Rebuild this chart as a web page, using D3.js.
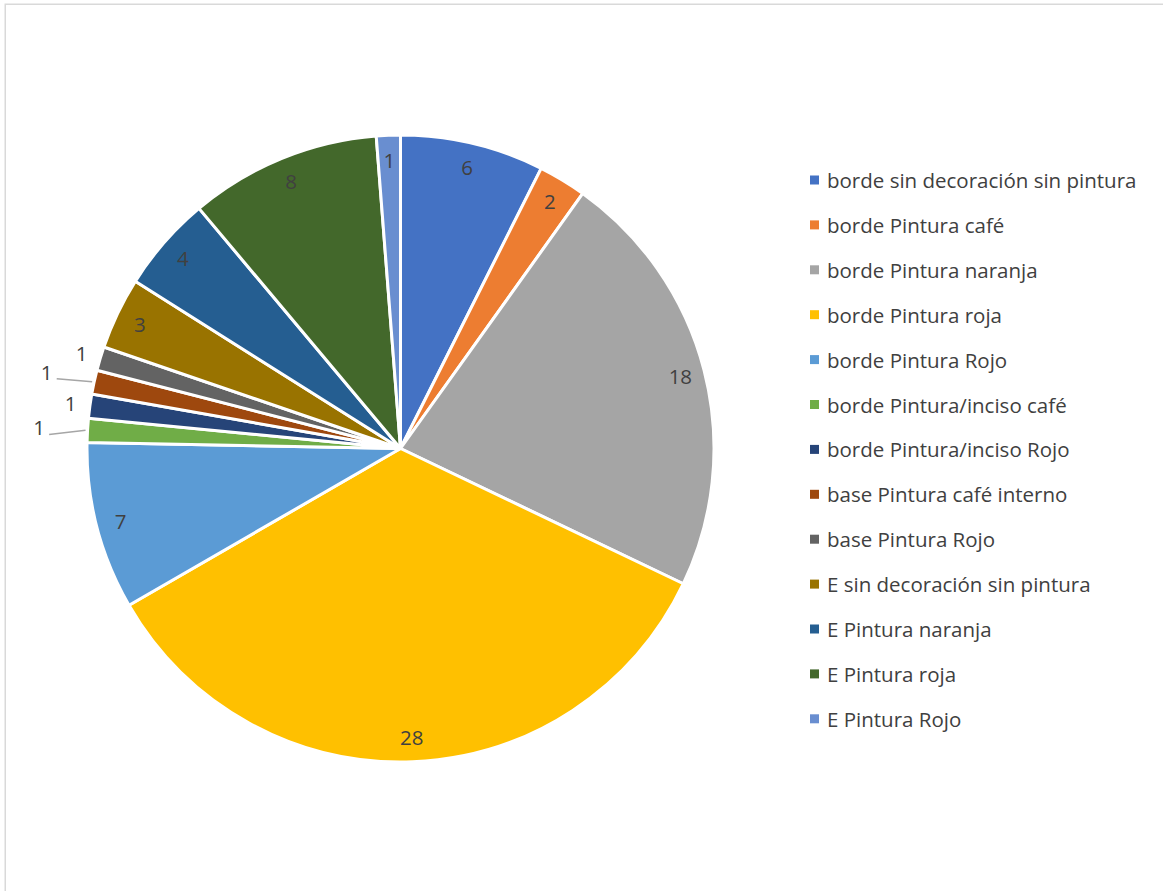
<!DOCTYPE html>
<html>
<head>
<meta charset="utf-8">
<script src="https://cdn.jsdelivr.net/npm/d3@7/dist/d3.min.js"></script>
<style>
  html, body { margin: 0; padding: 0; background: #fff; }
  svg { display: block; }
  text { font-family: "Open Sans", "Liberation Sans", sans-serif; fill: #404040; }
</style>
</head>
<body>
<svg id="chart" width="1163" height="891"></svg>
<script>
// Categories and counts, in drawing order (clockwise from 12 o'clock)
const categories = [
  "borde sin decoración sin pintura",
  "borde Pintura café",
  "borde Pintura naranja",
  "borde Pintura roja",
  "borde Pintura Rojo",
  "borde Pintura/inciso café",
  "borde Pintura/inciso Rojo",
  "base Pintura café interno",
  "base Pintura Rojo",
  "E sin decoración sin pintura",
  "E Pintura naranja",
  "E Pintura roja",
  "E Pintura Rojo"
];
const values = [6, 2, 18, 28, 7, 1, 1, 1, 1, 3, 4, 8, 1];
const colors = [
  "#4472C4", "#ED7D31", "#A5A5A5", "#FFC000", "#5B9BD5", "#70AD47",
  "#264478", "#9E480E", "#636363", "#997300", "#255E91", "#43682B", "#698ED0"
];
// Label placement per slice: inside, outside (near) or outside with leader line (far)
const labelMode = ["in", "in", "in", "in", "in", "far", "near", "far", "near", "in", "in", "in", "in"];

const svg = d3.select("#chart");

// chart-area frame (runs off the right and bottom edges)
svg.append("rect")
  .attr("x", 5.25).attr("y", 4.25)
  .attr("width", 1300).attr("height", 1000)
  .attr("fill", "none")
  .attr("stroke", "#d9d9d9")
  .attr("stroke-width", 1.5);

const cx = 400.5, cy = 448.5, R = 313.5;

const data = categories.map((c, i) => ({ name: c, value: values[i], color: colors[i], mode: labelMode[i] }));

const pie = d3.pie().value(d => d.value).sort(null);
const arcs = pie(data);

const arc = d3.arc().innerRadius(0).outerRadius(R);
const labelArc = d3.arc().innerRadius(289).outerRadius(289);

const g = svg.append("g").attr("transform", `translate(${cx},${cy})`);

g.selectAll("path.slice")
  .data(arcs)
  .join("path")
  .attr("class", "slice")
  .attr("d", arc)
  .attr("fill", d => d.data.color)
  .attr("stroke", "#fff")
  .attr("stroke-width", 3)
  .attr("stroke-linejoin", "round");

const pt = (a, r) => [Math.sin(a) * r, -Math.cos(a) * r];
const mid = d => (d.startAngle + d.endAngle) / 2;

// leader lines for far outside labels
arcs.filter(d => d.data.mode === "far").forEach(d => {
  const a = mid(d);
  const p0 = pt(a, R + 2);
  const lp = pt(a, 362);
  g.append("path")
    .attr("d", d3.line()([p0, [lp[0] + 10, lp[1] + 7]]))
    .attr("fill", "none")
    .attr("stroke", "#a6a6a6")
    .attr("stroke-width", 1.5);
});

g.selectAll("text.lbl")
  .data(arcs)
  .join("text")
  .attr("class", "lbl")
  .attr("transform", d => {
    let p;
    if (d.data.mode === "in") p = labelArc.centroid(d);
    else p = pt(mid(d), d.data.mode === "far" ? 362 : 333);
    return `translate(${p[0]},${p[1]})`;
  })
  .attr("text-anchor", "middle")
  .attr("dominant-baseline", "central")
  .style("font-size", "20.5px")
  .text(d => d.data.value);

// legend
const legend = svg.append("g").attr("transform", "translate(810,180)");
const rowH = 44.9;
const item = legend.selectAll("g.item")
  .data(data)
  .join("g")
  .attr("class", "item")
  .attr("transform", (d, i) => `translate(0,${i * rowH})`);
item.append("rect")
  .attr("x", 0).attr("y", -4.5)
  .attr("width", 9).attr("height", 9)
  .attr("fill", d => d.color);
item.append("text")
  .attr("x", 17)
  .attr("y", 0)
  .attr("dominant-baseline", "central")
  .style("font-size", "20.5px")
  .text(d => d.name);
</script>
</body>
</html>
